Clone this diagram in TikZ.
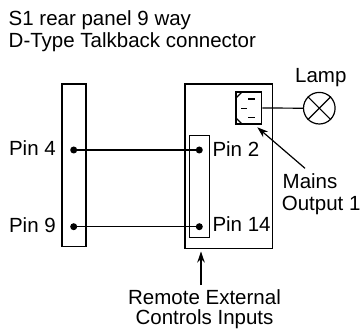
\documentclass[tikz,border=0pt]{standalone}
\usepackage{fontspec}
\setmainfont{Liberation Sans}
\usetikzlibrary{arrows.meta}
\begin{document}
\begin{tikzpicture}[x=1pt,y=-1pt,
  every node/.style={font=\fontsize{20.5}{21.7}\selectfont},
  line/.style={line width=1.2pt},
  pindot/.style={circle,fill=black,inner sep=0pt,minimum size=7pt},
  lbl/.style={inner sep=0pt},
  pointer/.style={line width=1.2pt,-{Stealth[length=11pt,width=7.5pt]}}]
\useasboundingbox (0,0) rectangle (362,329);
% title
\node[lbl,anchor=base west] (t1) at (8.5,26) {S1 rear panel 9 way};
\node[lbl,anchor=base west] (t2) at (8.5,47.3) {D-Type Talkback connector};
% left connector
\draw[line] (62,84) rectangle (86,246.7);
% right unit
\draw[line] (185,84) rectangle (272.7,248.3);
% inputs strip
\draw[line] (189.3,135.7) rectangle (209.3,237.3);
% dots
\node[pindot] (p4) at (73.7,150) {};
\node[pindot] (p9) at (73.7,226.7) {};
\node[pindot] (p2) at (199.3,150) {};
\node[pindot] (p14) at (199.3,226.7) {};
\draw[line] (p4.center) -- (p2.center);
\draw[line] (p9.center) -- (p14.center);
% socket
\node[draw,line width=1.2pt,inner sep=0pt,minimum width=25.7pt,minimum height=32pt] (sock) at (248.85,108) {};
\draw[line] (236,98) -- (242,92);
\draw[line] (236,118) -- (242,124);
\draw[line] (248.3,99) -- (255,99);
\draw[line] (241,108.3) -- (246.7,108.3);
\draw[line] (248.3,117.3) -- (255,117.3);
% lamp
\node[draw,circle,line width=1.2pt,inner sep=0pt,minimum size=31.6pt] (lamp) at (319.3,108.2) {};
\draw[line] (lamp.north west) -- (lamp.south east);
\draw[line] (lamp.north east) -- (lamp.south west);
\draw[line] (sock.east) -- (lamp.west);
% labels
\node[lbl,anchor=base west] (lamplbl) at (295,83) {Lamp};
\node[lbl,anchor=base east] (pin4) at (56,156) {Pin 4};
\node[lbl,anchor=base east] (pin9) at (56,233) {Pin 9};
\node[lbl,anchor=base west] (pin2) at (212.3,156.5) {Pin 2};
\node[lbl,anchor=base west] (pin14) at (212.3,231) {Pin 14};
\node[lbl,anchor=base west] (mains1) at (282.5,188.3) {Mains};
\node[lbl,anchor=base west] (mains2) at (281.7,210) {Output 1};
\node[lbl,anchor=base] (rem1) at (204.5,304) {Remote External};
\node[lbl,anchor=base] (rem2) at (204.5,324.3) {Controls Inputs};
% pointers
\coordinate (mainstail) at (305,168.3);
\coordinate (socktip) at (257.3,127.3);
\draw[pointer] (mainstail) -- (socktip);
\coordinate (remtail) at (201,285);
\coordinate (remtip) at (201,251.5);
\draw[pointer] (remtail) -- (remtip);
\end{tikzpicture}
\end{document}
